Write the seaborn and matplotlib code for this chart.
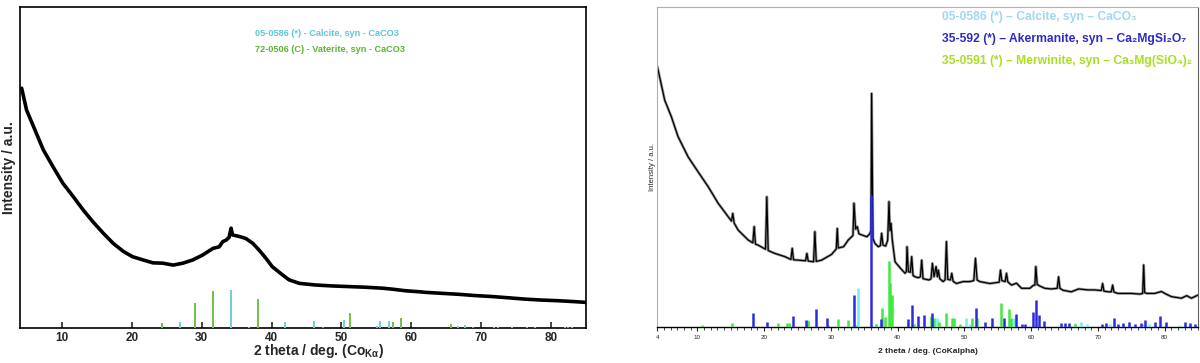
import numpy as np
import pandas as pd
import matplotlib
matplotlib.use("Agg")
import matplotlib.pyplot as plt
from matplotlib.ticker import MultipleLocator, FixedLocator
import seaborn as sns

# ---- left pattern (amorphous sample) ----
left_theta = [4.2, 4.9, 6.1, 7.3, 8.7, 10.1, 11.6, 13.0, 14.4, 15.9, 17.3, 18.8,
              20.1, 21.6, 23.0, 24.4, 25.9, 27.3, 28.7, 30.1, 31.6, 32.5, 33.0,
              33.5, 33.9, 34.2, 34.4, 35.4, 36.3, 37.3, 38.2, 39.2, 40.1, 41.3,
              42.5, 44.0, 46.3, 48.7, 51.1, 53.5, 55.9, 57.3, 59.2, 61.1, 62.1,
              64.4, 66.8, 69.2, 71.6, 74.0, 76.3, 78.7, 81.1, 83.5, 84.9]
left_int = [74.7, 67.9, 61.7, 55.5, 50.2, 45.1, 40.9, 36.8, 33.1, 29.5, 26.4, 23.8,
            22.2, 21.2, 20.3, 20.2, 19.6, 20.2, 21.2, 22.7, 24.8, 25.3, 26.9,
            27.4, 28.2, 31.1, 29.0, 28.5, 27.9, 26.4, 24.3, 21.7, 19.1, 17.0,
            15.0, 13.9, 13.4, 13.1, 12.9, 12.7, 12.4, 12.1, 11.6, 11.3, 11.1,
            10.8, 10.5, 10.1, 9.8, 9.4, 9.0, 8.7, 8.5, 8.2, 8.0]

calcite_l_pos = [26.9, 34.2, 36.7, 41.9, 46.1, 50.4, 55.1, 55.6, 56.8, 66.7, 67.7,
                 71.8, 72.5, 74.5, 76.6, 77.8, 82.0, 83.0]
calcite_l_h = [1.8, 11.9, 0.3, 1.9, 2.3, 2.4, 0.5, 2.3, 2.3, 0.5, 1.0,
               0.3, 0.3, 0.3, 0.3, 0.3, 0.3, 0.3]
vaterite_pos = [24.3, 29.0, 31.6, 38.1, 47.4, 51.2, 57.4, 58.6, 65.7, 68.9, 82.5]
vaterite_h = [1.6, 7.8, 11.4, 9.1, 0.4, 4.7, 1.8, 3.2, 1.3, 0.3, 0.3]

# ---- right pattern (crystalline sample) ----
right_theta = [4.0, 5.1, 6.1, 7.1, 8.6, 10.1, 11.6, 13.1, 14.6, 15.1, 15.3, 15.5,
               16.1, 17.6, 18.3, 18.5, 18.7, 19.1, 20.2, 20.4, 20.6, 21.6, 23.1,
               24.0, 24.2, 24.4, 25.1, 26.2, 26.4, 26.6, 27.4, 27.6, 27.8, 28.6,
               30.1, 30.8, 30.95, 31.1, 31.9, 32.6, 33.1, 33.3, 33.45, 33.7, 33.95,
               34.2, 34.6, 35.4, 35.8, 36.0, 36.1, 36.3, 36.6, 37.1, 37.4, 37.6,
               37.8, 38.2, 38.5, 38.7, 38.85, 39.0, 39.2, 39.6, 40.4, 41.1, 41.3,
               41.4, 41.6, 41.9, 42.1, 42.3, 42.6, 43.1, 43.4, 43.6, 43.8, 44.7,
               45.0, 45.2, 45.45, 45.75, 45.95, 46.1, 46.3, 46.8, 47.1, 47.3, 47.5,
               47.9, 48.1, 48.3, 48.8, 49.8, 50.8, 51.4, 51.65, 51.9, 52.3, 53.8,
               55.2, 55.4, 55.6, 56.1, 56.3, 56.5, 57.05, 57.8, 58.55, 59.8, 60.3,
               60.55, 60.7, 60.9, 61.3, 62.05, 63.05, 63.9, 64.1, 64.3, 64.75, 66.0,
               67.1, 68.5, 69.5, 70.5, 70.7, 70.9, 71.6, 72.0, 72.2, 72.4, 73.0,
               75.0, 76.25, 76.7, 76.85, 77.0, 77.4, 78.5, 79.5, 80.2, 81.0, 82.5,
               83.3, 84.0, 85.0]
right_int = [81.3, 70.8, 65.6, 59.4, 53.1, 48.4, 43.8, 38.6, 34.4, 33.0, 35.4, 32.4,
             30.2, 27.1, 26.2, 31.3, 25.8, 25.5, 24.2, 40.6, 23.8, 22.9, 21.9,
             21.0, 24.5, 20.9, 20.8, 20.6, 22.9, 20.5, 20.3, 29.7, 20.4, 20.8,
             22.6, 24.3, 30.7, 24.6, 25.0, 27.1, 28.1, 28.5, 38.6, 30.5, 31.3,
             29.0, 28.7, 28.1, 29.0, 30.0, 72.9, 27.5, 26.0, 25.0, 25.3, 29.2,
             25.5, 25.2, 27.0, 39.1, 30.0, 32.3, 27.0, 20.3, 18.3, 16.7, 17.2,
             25.0, 17.2, 17.0, 21.9, 16.0, 15.6, 15.3, 15.6, 20.8, 15.0, 14.6,
             15.0, 19.8, 15.6, 18.8, 15.6, 17.7, 15.0, 14.1, 14.6, 26.6, 14.8,
             14.6, 16.7, 14.2, 13.5, 14.1, 14.1, 14.4, 21.4, 14.6, 14.1, 13.5,
             13.9, 17.7, 14.4, 14.1, 16.7, 14.0, 13.0, 13.6, 12.0, 12.0, 12.9,
             13.0, 18.8, 13.2, 12.7, 12.0, 11.8, 12.0, 15.6, 12.0, 11.4, 10.9,
             11.8, 11.5, 11.5, 11.3, 13.5, 11.1, 10.9, 10.9, 13.0, 10.8, 10.4,
             10.4, 10.2, 10.4, 19.3, 10.6, 10.4, 10.4, 11.0, 10.2, 9.4, 8.9,
             9.7, 8.9, 9.9]

calcite_r_pos = [26.5, 34.05, 36.8, 45.9, 50.3, 50.8, 57.4, 66.5, 67.5, 68.4, 71.8,
                 76.7, 77.7, 82.2]
calcite_r_h = [2.1, 12.2, 0.8, 2.6, 2.6, 1.0, 2.6, 1.2, 1.6, 0.8, 1.0, 1.0, 0.8, 0.6]
akermanite_pos = [18.4, 20.4, 24.3, 26.2, 27.7, 29.4, 33.45, 36.0, 37.5, 41.6, 42.1,
                  43.1, 43.9, 45.1, 51.8, 53.1, 54.2, 56.0, 57.7, 58.6, 59.1, 60.3,
                  60.75, 61.15, 61.85, 64.5, 65.1, 65.7, 70.6, 71.2, 72.4, 73.0,
                  73.7, 74.7, 75.5, 76.5, 77.1, 78.6, 79.3, 80.2, 83.1, 83.8, 84.5]
akermanite_h = [4.2, 1.5, 3.3, 2.1, 5.4, 2.6, 9.8, 41.2, 2.3, 2.3, 6.7,
                3.3, 3.6, 4.2, 5.7, 1.5, 2.8, 2.8, 4.1, 0.8, 0.8, 4.7,
                8.5, 3.6, 1.8, 1.2, 1.2, 1.2, 1.0, 1.2, 2.6, 1.0,
                1.2, 1.5, 1.0, 1.2, 2.0, 1.5, 3.3, 1.6, 1.6, 1.2, 1.0]
merwinite_pos = [10.7, 15.2, 22.1, 23.4, 23.7, 26.6, 29.5, 31.1, 32.5, 33.7, 36.7,
                 37.6, 38.1, 38.7, 38.85, 39.2, 42.4, 45.0, 45.4, 46.2, 47.3, 48.2,
                 48.5, 49.3, 51.2, 51.9, 55.5, 56.7, 57.0, 66.6]
merwinite_h = [0.6, 1.1, 1.2, 1.2, 1.2, 1.8, 0.5, 2.3, 2.0, 0.6, 0.8,
               5.7, 3.0, 20.5, 13.6, 9.9, 1.0, 3.3, 2.6, 1.5, 4.4, 2.6,
               2.6, 0.8, 2.6, 2.6, 7.5, 5.4, 2.6, 0.8]

sns.set_style("white")
plt.rcParams['font.family'] = ['Liberation Sans', 'DejaVu Sans']
plt.rcParams['mathtext.fontset'] = 'custom'
plt.rcParams['mathtext.rm'] = 'Liberation Sans:bold'
plt.rcParams['mathtext.it'] = 'Liberation Sans:bold'
plt.rcParams['mathtext.bf'] = 'Liberation Sans:bold'

fig = plt.figure(figsize=(12, 3.63), dpi=100)
ax1 = fig.add_axes([0.0169, 0.0964, 0.4712, 0.8843])
ax2 = fig.add_axes([0.5478, 0.1, 0.4506, 0.8815])

# ---------------- left panel ----------------
df_l = pd.DataFrame({'theta': left_theta, 'I': left_int})
sns.lineplot(data=df_l, x='theta', y='I', ax=ax1, color='black', linewidth=2.6,
             estimator=None)
ax1.vlines(calcite_l_pos, 0, calcite_l_h, color='#6ccfdc', linewidth=1.4, zorder=3)
ax1.vlines(vaterite_pos, 0, vaterite_h, color='#72c046', linewidth=1.4, zorder=3)
ax1.set_xlim(4, 85)
ax1.set_ylim(0, 100)
ax1.set_yticks([])
ax1.xaxis.set_major_locator(FixedLocator([10, 20, 30, 40, 50, 60, 70, 80]))
ax1.tick_params(axis='x', direction='in', length=4, width=1.2, labelsize=8.5,
                pad=3, bottom=True)
for lab in ax1.get_xticklabels():
    lab.set_fontweight('bold')
for s in ax1.spines.values():
    s.set_color('black')
    s.set_linewidth(1.2)
ax1.set_xlabel(r'2 theta / deg. (Co$_{\mathrm{K}\alpha}$)', fontsize=10,
               fontweight='bold', labelpad=1)
ax1.xaxis.set_label_coords(0.527, -0.045, transform=ax1.transAxes)
ax1.xaxis.label.set_va('top')
ax1.set_ylabel('Intensity / a.u.', fontsize=10, fontweight='bold', labelpad=3)
ax1.text(0.415, 0.916, '05-0586 (*) - Calcite, syn - CaCO3', transform=ax1.transAxes,
         color='#5bc8d8', fontsize=6.6, fontweight='bold', va='center')
ax1.text(0.415, 0.868, '72-0506 (C) - Vaterite, syn - CaCO3', transform=ax1.transAxes,
         color='#5cb531', fontsize=6.6, fontweight='bold', va='center')

# ---------------- right panel ----------------
df_r = pd.DataFrame({'theta': right_theta, 'I': right_int})
sns.lineplot(data=df_r, x='theta', y='I', ax=ax2, color='#9a9a9a', linewidth=2.0,
             estimator=None)
sns.lineplot(data=df_r, x='theta', y='I', ax=ax2, color='black', linewidth=0.9,
             estimator=None)
ax2.vlines(calcite_r_pos, 0, calcite_r_h, color='#70eef6', linewidth=1.8, zorder=3)
ax2.vlines(merwinite_pos, 0, merwinite_h, color='#3ee83e', linewidth=1.8, zorder=3)
ax2.vlines(akermanite_pos, 0, akermanite_h, color='#2b2be0', linewidth=1.8, zorder=4)
ax2.set_xlim(4, 85)
ax2.set_ylim(0, 100)
ax2.set_yticks([])
ax2.xaxis.set_major_locator(FixedLocator([4, 10, 20, 30, 40, 50, 60, 70, 80]))
ax2.xaxis.set_minor_locator(MultipleLocator(1))
ax2.tick_params(axis='x', which='major', direction='out', length=3, width=0.8,
                labelsize=4.5, pad=3, bottom=True)
ax2.tick_params(axis='x', which='minor', direction='out', length=2, width=0.6,
                bottom=True)
for s in ['left', 'top']:
    ax2.spines[s].set_color('#b0b0b0')
    ax2.spines[s].set_linewidth(0.8)
ax2.spines['right'].set_color('#606060')
ax2.spines['right'].set_linewidth(0.8)
ax2.spines['bottom'].set_color('black')
ax2.spines['bottom'].set_linewidth(1.0)
ax2.set_xlabel('2 theta / deg. (CoKalpha)', fontsize=6, fontweight='bold', labelpad=6)
ax2.set_ylabel('Intensity / a.u.', fontsize=5.5, labelpad=1)
ax2.text(0.526, 0.969, '05-0586 (*) – Calcite, syn – CaCO₃', transform=ax2.transAxes,
         color='#a0d8ee', fontsize=8.7, fontweight='bold', va='center')
ax2.text(0.526, 0.899, '35-592 (*) – Akermanite, syn – Ca₂MgSi₂O₇',
         transform=ax2.transAxes, color='#2b2bc8', fontsize=8.7, fontweight='bold',
         va='center')
ax2.text(0.526, 0.830, '35-0591 (*) – Merwinite, syn – Ca₃Mg(SiO₄)₂',
         transform=ax2.transAxes, color='#a8e020', fontsize=8.7, fontweight='bold',
         va='center')

fig.savefig('out.png', dpi=100)
